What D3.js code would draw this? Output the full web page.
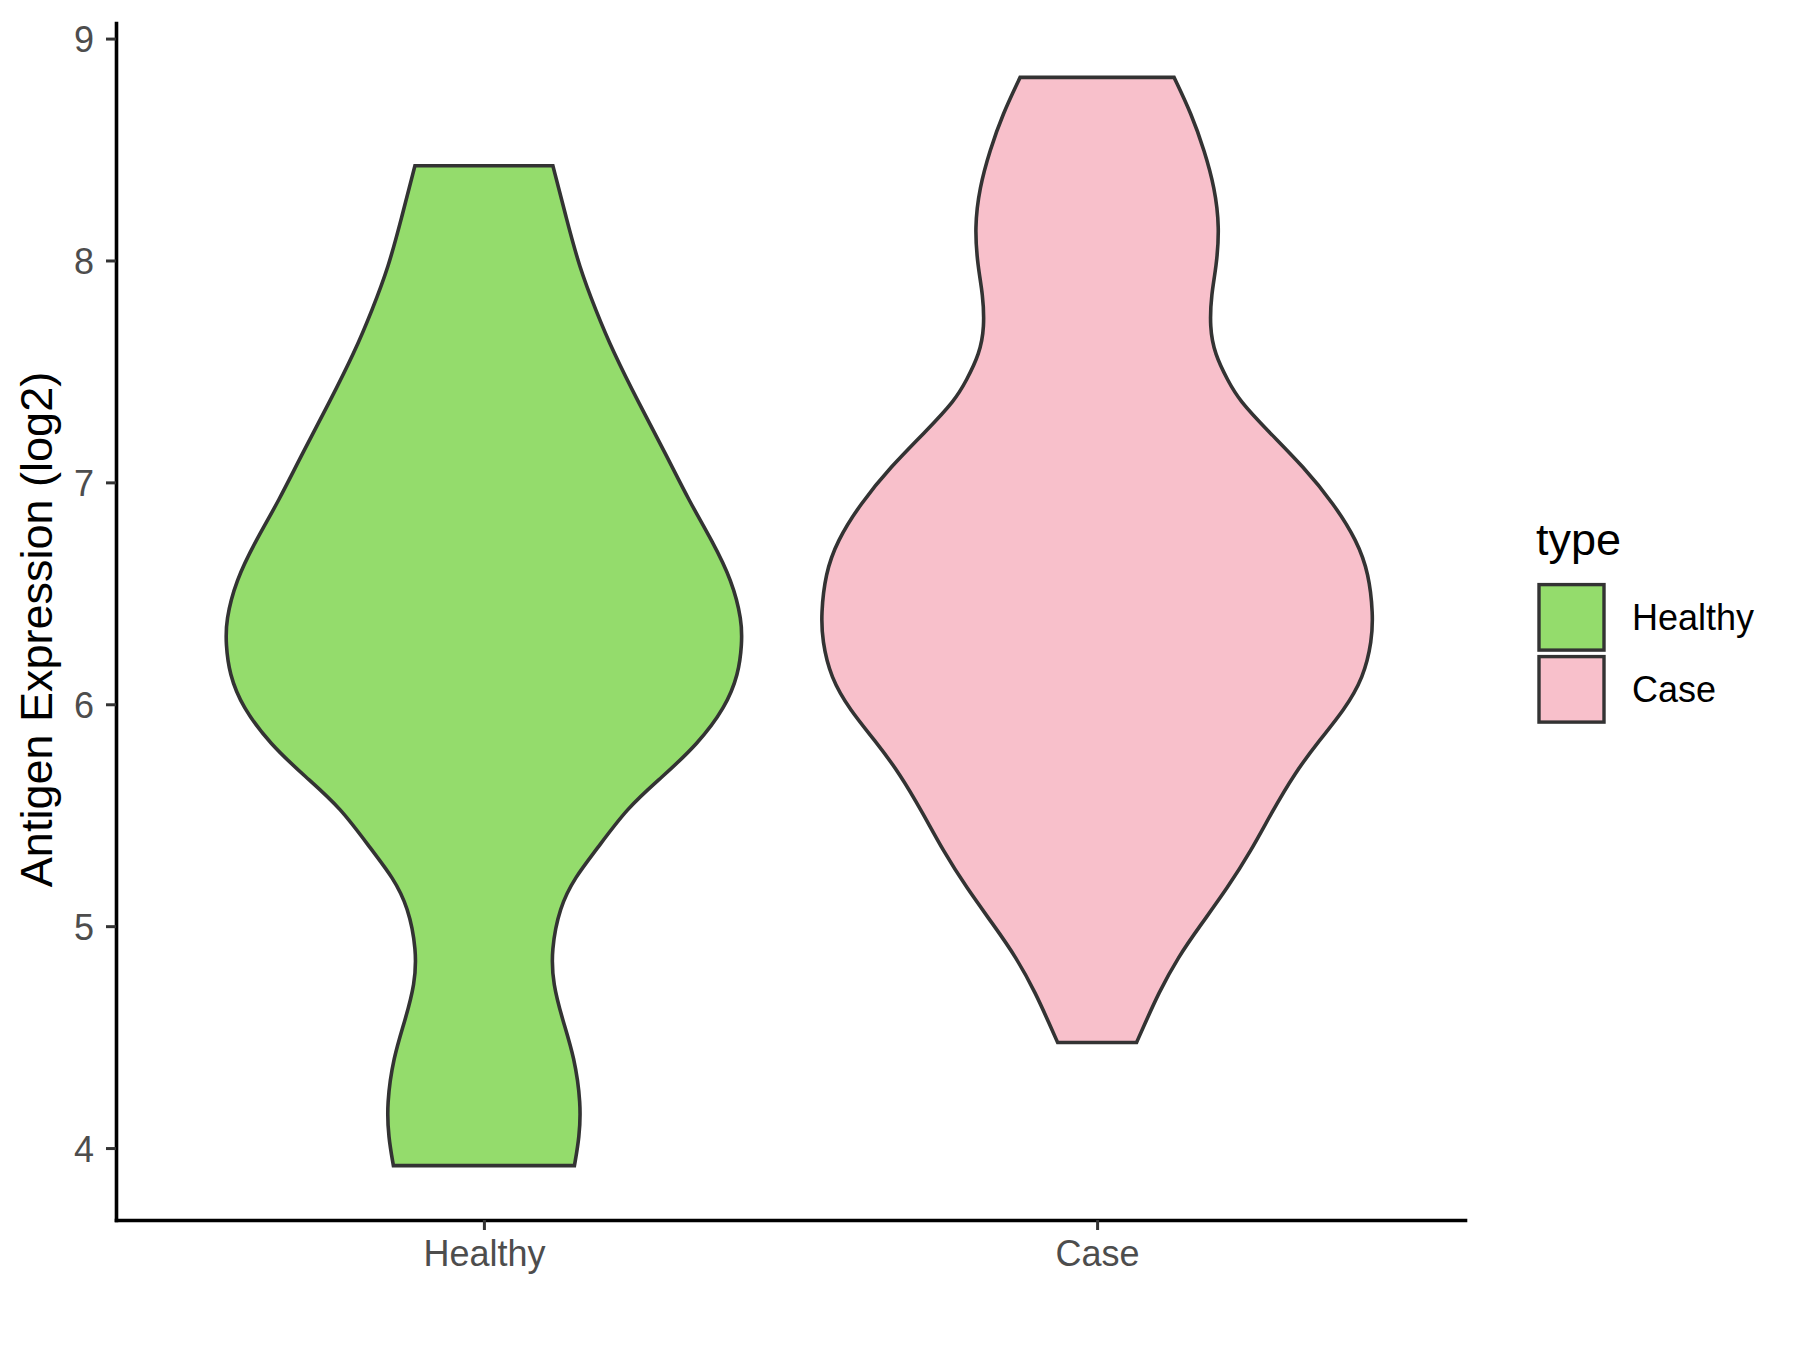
<!DOCTYPE html>
<html>
<head>
<meta charset="utf-8">
<script src="https://cdn.jsdelivr.net/npm/d3@7"></script>
<style>
  body { margin: 0; background: #fff; }
  text { font-family: "Liberation Sans", Arial, sans-serif; }
</style>
</head>
<body>
<div id="chart"></div>
<script>
// categories and y ticks
var categories = ["Healthy", "Case"];
var yTicks = [4, 5, 6, 7, 8, 9];

// violin outlines: y value and relative half width
var healthyY = [3.921, 4.048, 4.199, 4.409, 4.574, 4.740, 4.890, 5.085, 5.220, 5.340, 5.535, 5.671, 5.821, 5.986, 6.137, 6.272, 6.377, 6.557, 6.737, 6.918, 7.128, 7.353, 7.594, 7.774, 7.969, 8.194, 8.427];
var healthyWidth = [0.328, 0.346, 0.352, 0.328, 0.286, 0.250, 0.244, 0.274, 0.330, 0.405, 0.520, 0.645, 0.775, 0.875, 0.923, 0.935, 0.935, 0.899, 0.827, 0.743, 0.659, 0.563, 0.466, 0.406, 0.346, 0.298, 0.250];

var caseY = [4.476, 4.559, 4.694, 4.860, 5.010, 5.175, 5.340, 5.506, 5.686, 5.840, 5.971, 6.121, 6.287, 6.407, 6.587, 6.737, 6.903, 7.068, 7.233, 7.370, 7.458, 7.579, 7.699, 7.849, 7.969, 8.149, 8.329, 8.495, 8.660, 8.825];
var caseWidth = [0.143, 0.173, 0.221, 0.293, 0.378, 0.474, 0.558, 0.630, 0.714, 0.807, 0.894, 0.966, 0.996, 1.000, 0.985, 0.942, 0.858, 0.750, 0.618, 0.515, 0.474, 0.426, 0.408, 0.414, 0.432, 0.444, 0.426, 0.389, 0.342, 0.279];

var fills = ["#94DC6C", "#F8C0CB"];

var svgWidth = 1800, svgHeight = 1350;
var margin = { top: 23, right: 335, bottom: 130, left: 116 };
var width = svgWidth - margin.left - margin.right;
var height = svgHeight - margin.top - margin.bottom;

var svg = d3.select("#chart").append("svg")
    .attr("width", svgWidth)
    .attr("height", svgHeight);

var chartGroup = svg.append("g")
    .attr("transform", `translate(${margin.left}, ${margin.top})`);

// ggplot style 5% expansion on y
var allY = healthyY.concat(caseY);
var yMin = d3.min(allY), yMax = d3.max(allY);
var pad = (yMax - yMin) * 0.05;
var yScale = d3.scaleLinear()
    .domain([yMin - pad, yMax + pad])
    .range([height, 0]);

var xScale = d3.scalePoint()
    .domain(categories)
    .range([0, width])
    .padding(0.6);

var wScale = d3.scaleLinear()
    .domain([0, 1])
    .range([0, xScale.step() * 0.45]);

var violins = [
    { name: "Healthy", ys: healthyY, ws: healthyWidth },
    { name: "Case", ys: caseY, ws: caseWidth }
];

violins.forEach(function(v, i) {
    var pts = v.ys.map((y, j) => ({ y: y, w: v.ws[j] }));
    var cx = xScale(v.name);
    var area = d3.area()
        .y(d => yScale(d.y))
        .x0(d => cx - wScale(d.w))
        .x1(d => cx + wScale(d.w))
        .curve(d3.curveBasis);
    chartGroup.append("path")
        .datum(pts)
        .attr("d", area)
        .attr("fill", fills[i])
        .attr("stroke", "#333333")
        .attr("stroke-width", 3.6)
        .attr("stroke-linejoin", "miter");
});

// axes
var leftAxis = d3.axisLeft(yScale).tickValues(yTicks).tickFormat(d3.format("d"))
    .tickSize(10).tickSizeOuter(0).tickPadding(12);
var bottomAxis = d3.axisBottom(xScale).tickSize(10).tickSizeOuter(0).tickPadding(10);

var gy = chartGroup.append("g").call(leftAxis);
var gx = chartGroup.append("g").attr("transform", `translate(0, ${height})`).call(bottomAxis);

[gx, gy].forEach(function(g) {
    g.select(".domain").attr("stroke", "#000").attr("stroke-width", 3.6).attr("stroke-linecap", "square");
    g.selectAll(".tick line").attr("stroke", "#333333").attr("stroke-width", 3);
    g.selectAll(".tick text")
        .attr("fill", "#4D4D4D")
        .style("font-size", "36px")
        .style("font-family", "'Liberation Sans', Arial, sans-serif");
});
gy.selectAll(".tick text").attr("dy", "0.36em");
gx.selectAll(".tick text").attr("dy", "0.72em");

// y title
svg.append("text")
    .attr("transform", `translate(52, ${margin.top + height / 2 + 8}) rotate(-90)`)
    .attr("text-anchor", "middle")
    .style("font-size", "45px")
    .attr("fill", "#000")
    .text("Antigen Expression (log2)");

// legend
var legend = svg.append("g").attr("transform", "translate(1536, 0)");
legend.append("text")
    .attr("x", 0)
    .attr("y", 555)
    .style("font-size", "45px")
    .text("type");

categories.forEach(function(c, i) {
    var top = 583 + i * 72;
    legend.append("rect")
        .attr("x", 3)
        .attr("y", top + 1.6)
        .attr("width", 65)
        .attr("height", 65.5)
        .attr("fill", fills[i])
        .attr("stroke", "#333333")
        .attr("stroke-width", 3.4);
    legend.append("text")
        .attr("x", 96)
        .attr("y", top + 34 + 13)
        .style("font-size", "36px")
        .text(c);
});
</script>
</body>
</html>
